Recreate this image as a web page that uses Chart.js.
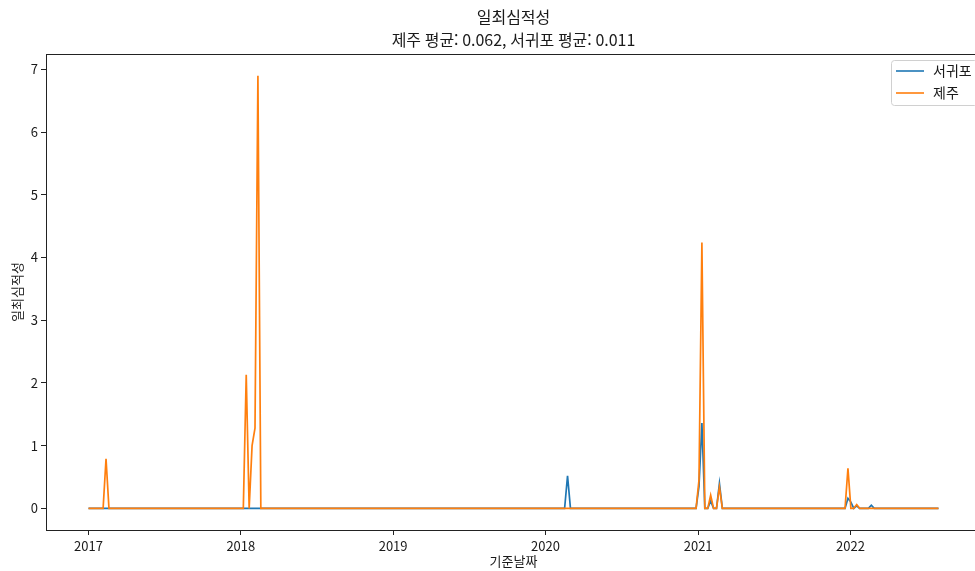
<!DOCTYPE html>
<html lang="ko">
<head>
<meta charset="utf-8">
<title>일최심적성</title>
<script src="https://cdn.jsdelivr.net/npm/chart.js@4.4.1/dist/chart.umd.min.js"></script>
<style>
  html, body { margin: 0; padding: 0; background: #fff; overflow: hidden; }
  #wrap { width: 975px; height: 571px; overflow: hidden; }
  canvas { display: block; }
</style>
</head>
<body>
<div id="wrap"><canvas id="chart" width="990" height="571"></canvas></div>
<script>
// Weekly series: first week, number of weeks
const weekStart = '2017-01-01';
const weekCount = 292;

// Weeks with snow depth above zero (all other weeks are 0)
const jejuDates  = ['2017-02-12', '2018-01-14', '2018-01-28', '2018-02-04', '2018-02-11',
                    '2021-01-03', '2021-01-10', '2021-01-31', '2021-02-21', '2021-12-26', '2022-01-16'];
const jejuValues = [0.79, 2.13, 1.0, 1.28, 6.9,
                    0.45, 4.24, 0.21, 0.34, 0.64, 0.06];

const seogwipoDates  = ['2020-02-23', '2021-01-03', '2021-01-10', '2021-01-31', '2021-02-21',
                        '2021-12-26', '2022-01-02', '2022-01-16', '2022-02-20'];
const seogwipoValues = [0.52, 0.35, 1.36, 0.12, 0.40,
                        0.16, 0.10, 0.04, 0.05];

// Axis ticks
const yearTicks  = ['2017-01-01', '2018-01-01', '2019-01-01', '2020-01-01', '2021-01-01', '2022-01-01'];
const yearLabels = ['2017', '2018', '2019', '2020', '2021', '2022'];
const yTicks = [0, 1, 2, 3, 4, 5, 6, 7];

const titleText = ['일최심적성', '제주 평균: 0.062, 서귀포 평균: 0.011'];
const xTitle = '기준날짜';
const yTitle = '일최심적성';

const DAY = 86400000;
const origin = Date.parse(weekStart + 'T00:00:00Z');
const dayOf = s => Math.round((Date.parse(s + 'T00:00:00Z') - origin) / DAY);

function weeklySeries(dates, values) {
  const byDay = new Map(dates.map((d, i) => [dayOf(d), values[i]]));
  const pts = [];
  for (let k = 0; k < weekCount; k++) {
    const d = k * 7;
    pts.push({ x: d, y: byDay.has(d) ? byDay.get(d) : 0 });
  }
  return pts;
}

const seogwipo = weeklySeries(seogwipoDates, seogwipoValues);
const jeju = weeklySeries(jejuDates, jejuValues);

const lastDay = (weekCount - 1) * 7;
const xPad = lastDay * 0.05;
const yMaxData = Math.max(...jejuValues, ...seogwipoValues);
const yPad = yMaxData * 0.05;

const FONT = "'Noto Sans CJK KR', 'Noto Sans', sans-serif";
const BLUE = '#1f77b4';
const ORANGE = '#ff7f0e';

// Frame, titles and legend drawn on top of the plot
const decorations = {
  id: 'decorations',
  afterDraw(chart) {
    const { ctx, chartArea: a } = chart;
    ctx.save();
    // four-sided frame
    ctx.strokeStyle = '#222';
    ctx.lineWidth = 1;
    ctx.strokeRect(Math.round(a.left) + 0.5, Math.round(a.top) + 0.5,
                   Math.round(a.right - a.left), Math.round(a.bottom - a.top));

    const cx = (a.left + a.right) / 2;
    ctx.fillStyle = '#1a1a1a';
    ctx.textAlign = 'center';
    ctx.textBaseline = 'middle';
    ctx.font = '16px ' + FONT;
    ctx.fillText(titleText[0], cx, 17);
    ctx.fillText(titleText[1], cx, 40);

    ctx.font = '13px ' + FONT;
    ctx.fillText(xTitle, cx, 561);
    ctx.save();
    ctx.translate(17, (a.top + a.bottom) / 2);
    ctx.rotate(-Math.PI / 2);
    ctx.fillText(yTitle, 0, 0);
    ctx.restore();

    // legend
    const bx = 891.5, by = 60.5, bw = 86, bh = 45, r = 3;
    ctx.beginPath();
    ctx.moveTo(bx + r, by);
    ctx.lineTo(bx + bw - r, by);
    ctx.arcTo(bx + bw, by, bx + bw, by + r, r);
    ctx.lineTo(bx + bw, by + bh - r);
    ctx.arcTo(bx + bw, by + bh, bx + bw - r, by + bh, r);
    ctx.lineTo(bx + r, by + bh);
    ctx.arcTo(bx, by + bh, bx, by + bh - r, r);
    ctx.lineTo(bx, by + r);
    ctx.arcTo(bx, by, bx + r, by, r);
    ctx.closePath();
    ctx.fillStyle = 'rgba(255,255,255,0.8)';
    ctx.fill();
    ctx.strokeStyle = '#d0d0d0';
    ctx.stroke();

    const items = [chart.data.datasets[0], chart.data.datasets[1]];
    const rows = [71, 93];
    ctx.textAlign = 'left';
    ctx.font = '14px ' + FONT;
    items.forEach((ds, i) => {
      ctx.strokeStyle = ds.borderColor;
      ctx.lineWidth = 1.6;
      ctx.beginPath();
      ctx.moveTo(896, rows[i]);
      ctx.lineTo(924, rows[i]);
      ctx.stroke();
      ctx.fillStyle = '#1a1a1a';
      ctx.fillText(ds.label, 933, rows[i]);
    });
    ctx.restore();
  }
};

new Chart(document.getElementById('chart'), {
  type: 'line',
  data: {
    datasets: [
      { label: '서귀포', data: seogwipo, borderColor: BLUE, backgroundColor: BLUE,
        borderWidth: 1.7, pointRadius: 0, tension: 0, order: 1 },
      { label: '제주', data: jeju, borderColor: ORANGE, backgroundColor: ORANGE,
        borderWidth: 1.7, pointRadius: 0, tension: 0, order: 0 }
    ]
  },
  options: {
    responsive: false,
    animation: false,
    events: [],
    layout: { padding: { left: 0, right: 9, top: 54, bottom: 0 } },
    plugins: { legend: { display: false }, tooltip: { enabled: false }, title: { display: false } },
    scales: {
      x: {
        type: 'linear',
        min: -xPad,
        max: lastDay + xPad,
        afterBuildTicks: s => { s.ticks = yearTicks.map(d => ({ value: dayOf(d) })); },
        afterFit: s => { s.height = 41; },
        ticks: {
          autoSkip: false, maxRotation: 0, padding: 3,
          color: '#1a1a1a', font: { family: FONT, size: 13 },
          callback: (v) => yearLabels[yearTicks.findIndex(d => dayOf(d) === v)]
        },
        grid: { drawOnChartArea: false, drawTicks: true, tickLength: 5, tickColor: '#222' },
        border: { display: true, color: '#222' }
      },
      y: {
        type: 'linear',
        min: -yPad,
        max: yMaxData + yPad + 0.0001,
        afterBuildTicks: s => { s.ticks = yTicks.map(v => ({ value: v })); },
        afterFit: s => { s.width = 46; },
        ticks: {
          padding: 3, color: '#1a1a1a', font: { family: FONT, size: 13 },
          callback: v => String(v)
        },
        grid: { drawOnChartArea: false, drawTicks: true, tickLength: 5, tickColor: '#222' },
        border: { display: true, color: '#222' }
      }
    }
  },
  plugins: [decorations]
});
</script>
</body>
</html>
